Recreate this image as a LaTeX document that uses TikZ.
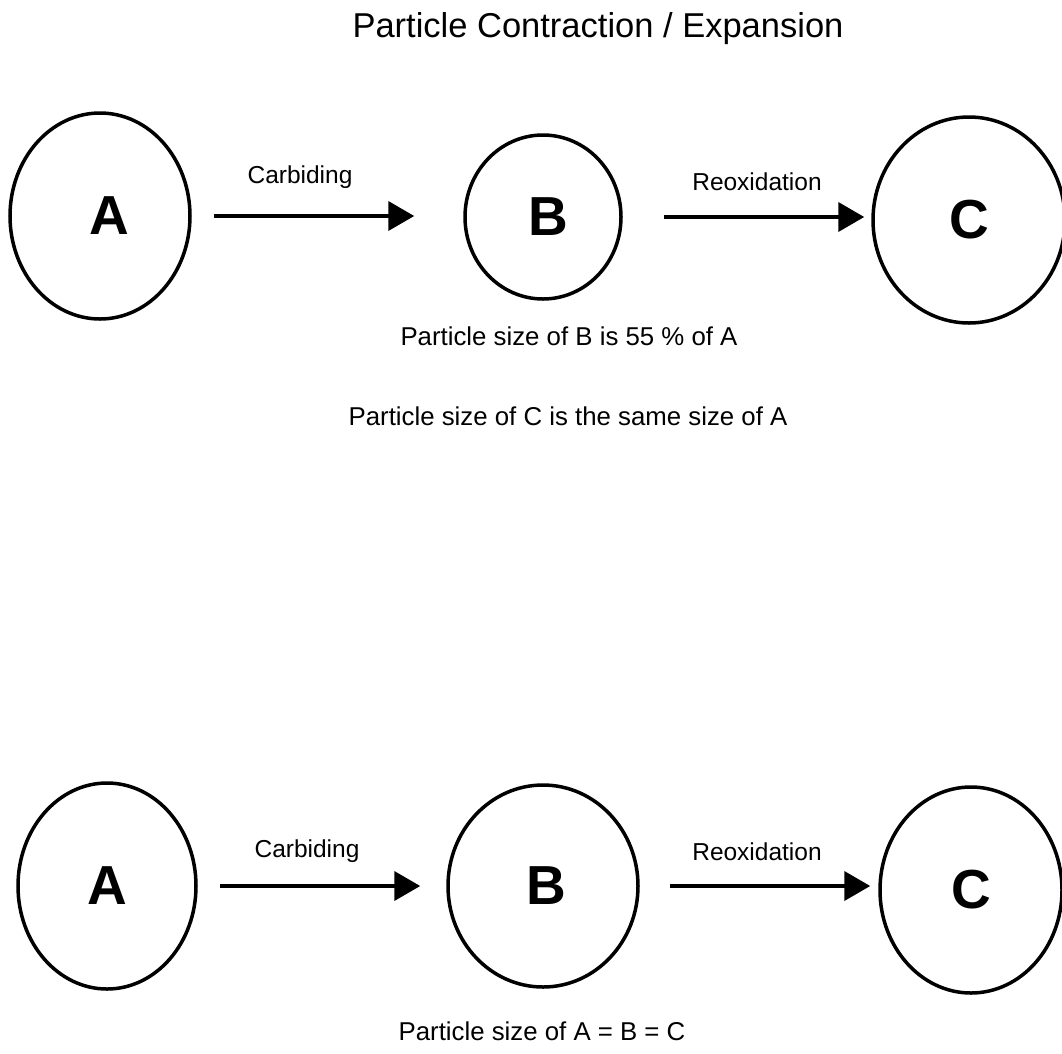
\documentclass[tikz,border=0pt]{standalone}
\usepackage{fontspec}
\setmainfont{Liberation Sans}
\usetikzlibrary{shapes.geometric,arrows.meta}
\begin{document}
\begin{tikzpicture}[x=1pt,y=-1pt,
  particle/.style={draw=black,line width=3.5pt,ellipse,inner sep=0pt,
    font=\fontsize{55}{60}\selectfont\bfseries},
  arr/.style={line width=4pt,-{Triangle[length=26pt,width=29pt]}},
  steplabel/.style={anchor=base,inner sep=0pt,font=\fontsize{24.5}{28}\selectfont},
  note/.style={anchor=base,inner sep=0pt,font=\fontsize{25.8}{30}\selectfont},
  titletext/.style={anchor=base,inner sep=0pt,font=\fontsize{34.5}{40}\selectfont}]
\useasboundingbox[fill=white] (0,0) rectangle (1062,1053);

\node[titletext] (title) at (598,37) {Particle Contraction / Expansion};

% top row
\node[particle,minimum width=180pt,minimum height=206pt] (A1) at (100,216) {\hspace*{18pt}A};
\node[particle,minimum width=156pt,minimum height=164pt] (B1) at (543,217) {\hspace*{10pt}B};
\node[particle,minimum width=192pt,minimum height=206pt] (C1) at (969,220) {C};
\draw[arr] ([xshift=22pt]A1.east) -- ([xshift=-49pt]A1.east -| B1.west);
\draw[arr] ([xshift=41pt]B1.east) -- ([xshift=-7pt]B1.east -| C1.west);
\node[steplabel] (l1) at (300,183) {Carbiding};
\node[steplabel] (l2) at (757,190) {Reoxidation};
\node[note] (n1) at (569,345) {Particle size of B is 55 \% of A};
\node[note] (n2) at (568,425) {Particle size of C is the same size of A};

% bottom row
\node[particle,minimum width=178pt,minimum height=206pt] (A2) at (107,886) {A};
\node[particle,minimum width=190pt,minimum height=202pt] (B2) at (543,886) {\hspace*{6pt}B};
\node[particle,minimum width=182pt,minimum height=206pt] (C2) at (971,890) {C};
\draw[arr] ([xshift=22pt]A2.east) -- ([xshift=-26pt]A2.east -| B2.west);
\draw[arr] ([xshift=30pt]B2.east) -- ([xshift=-8pt]B2.east -| C2.west);
\node[steplabel] (l3) at (307,857) {Carbiding};
\node[steplabel] (l4) at (757,860) {Reoxidation};
\node[note] (n3) at (542,1040) {Particle size of A = B = C};
\end{tikzpicture}
\end{document}
